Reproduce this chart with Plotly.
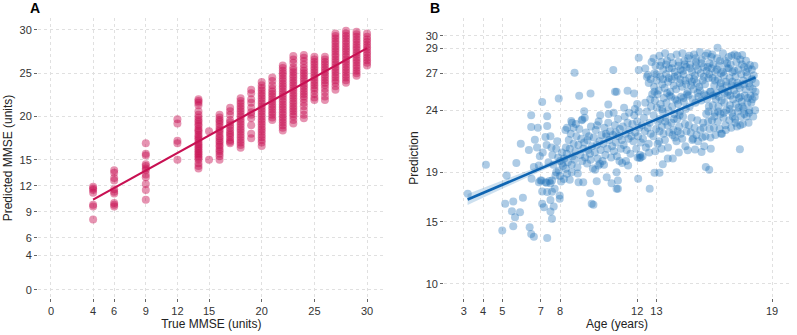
import plotly.graph_objects as go
from plotly.subplots import make_subplots

# ---------------- Panel A data ----------------
true_levels = [4, 6, 9, 12, 14, 15, 16, 17, 18, 19, 20, 21, 22, 23, 24, 25, 26, 27, 28, 29, 30]
pred_by_level = [
    [11.9, 11.7, 11.5, 11.2, 9.8, 9.6, 8.1],
    [13.8, 13.5, 12.9, 12.6, 11.6, 11.3, 11.1, 10.0, 9.8, 9.6],
    [16.9, 15.7, 15.5, 14.5, 14.3, 14.0, 13.8, 13.3, 13.0, 12.2, 11.5, 10.4],
    [19.7, 19.2, 17.2, 16.9, 15.0],
    [22.0, 21.8, 21.6, 21.3, 20.6, 20.2, 19.9, 19.6, 19.4, 19.1, 18.9, 18.6, 18.4, 18.2, 17.9, 17.7,
     17.5, 17.3, 17.0, 16.8, 16.6, 16.4, 16.2, 16.0, 15.8, 15.6, 15.4, 15.2, 15.0, 14.6, 14.3, 14.0],
    [18.3, 15.0],
    [20.2, 19.9, 19.6, 19.4, 19.1, 18.8, 18.5, 18.3, 18.0, 17.7, 17.5, 17.2, 17.0, 16.7, 16.5, 16.2,
     16.0, 15.7, 15.4, 15.0],
    [21.0, 20.6, 20.2, 19.6, 19.3, 19.0, 18.7, 18.4, 18.1, 17.9, 17.6, 17.3, 17.1, 16.9],
    [22.1, 21.8, 21.5, 21.2, 20.9, 20.6, 20.3, 20.0, 19.7, 19.4, 19.1, 18.8, 18.5, 18.2, 17.9, 17.6,
     17.3, 17.0, 16.7, 16.4],
    [23.1, 22.7, 22.0, 21.6, 21.0, 20.5, 20.2, 19.8, 19.0, 18.0, 17.5],
    [24.0, 23.6, 23.3, 23.0, 22.7, 22.4, 22.1, 21.8, 21.5, 21.2, 20.9, 20.6, 20.3, 20.0, 19.7, 19.4,
     19.1, 18.8, 18.5, 18.2, 17.9, 17.6, 17.3, 17.0, 16.6],
    [24.5, 24.1, 23.6, 23.2, 22.9, 22.6, 22.3, 22.0, 21.7, 21.4, 21.1, 20.8, 20.5, 20.2, 19.9, 19.6],
    [25.9, 25.6, 25.3, 25.0, 24.7, 24.4, 24.1, 23.8, 23.5, 23.2, 22.9, 22.6, 22.3, 22.0, 21.7, 21.4,
     21.1, 20.8, 20.5, 20.2, 19.9, 19.6, 19.3, 19.0, 18.7, 18.4],
    [27.0, 26.6, 26.2, 25.7, 25.4, 25.1, 24.8, 24.5, 24.2, 23.9, 23.6, 23.3, 23.0, 22.7, 22.4, 22.1,
     21.8, 21.5, 21.2, 20.9, 20.6, 20.3, 20.0, 19.6, 19.2],
    [27.1, 26.8, 26.4, 26.0, 25.6, 25.3, 25.0, 24.7, 24.4, 24.1, 23.8, 23.5, 23.2, 22.9, 22.6, 22.3,
     22.0, 21.6, 21.2, 20.7, 20.2, 19.8],
    [26.9, 26.6, 26.3, 26.0, 25.7, 25.4, 25.1, 24.8, 24.5, 24.2, 23.9, 23.6, 23.3, 23.0, 22.6, 22.2, 21.9],
    [26.9, 26.6, 26.3, 26.0, 25.7, 25.4, 25.1, 24.8, 24.5, 24.2, 23.9, 23.6, 23.2, 22.8, 22.3, 21.9],
    [29.6, 29.3, 29.0, 28.7, 28.4, 28.1, 27.8, 27.5, 27.2, 26.9, 26.6, 26.3, 26.0, 25.7, 25.4, 25.1,
     24.8, 24.5, 24.2, 23.9, 23.5, 23.1],
    [29.9, 29.6, 29.3, 29.0, 28.7, 28.4, 28.1, 27.8, 27.5, 27.2, 26.9, 26.6, 26.3, 26.0, 25.7, 25.4,
     25.1, 24.8, 24.5, 24.2, 23.9],
    [29.8, 29.5, 29.2, 28.9, 28.6, 28.3, 28.0, 27.7, 27.4, 27.1, 26.8, 26.5, 26.2, 25.9, 25.6, 25.3,
     25.0, 24.7],
    [29.6, 29.2, 28.9, 28.6, 28.3, 28.0, 27.7, 27.4, 27.1, 26.8, 26.5, 26.2, 25.9],
]
fit_a_x = [4, 30]
fit_a_y = [10.4, 27.9]
ticks_a = [0, 4, 6, 9, 12, 15, 20, 25, 30]

# ---------------- Panel B data ----------------
b_young = [
    (3.21, 17.26), (4.15, 19.6), (5.73, 19.74), (5.23, 18.74), (5.15, 16.45), (5.57, 16.64),
    (6.07, 16.94), (5.5, 15.85), (5.92, 15.77), (5.66, 15.37), (5.0, 14.3), (5.57, 14.64),
    (6.42, 14.56), (6.5, 14.02), (6.64, 13.8), (5.96, 21.3), (6.38, 20.8), (6.5, 23.6),
    (6.5, 22.66), (6.85, 22.6), (6.69, 21.63), (6.52, 18.47), (6.64, 19.42), (6.9, 19.55),
    (6.98, 18.34), (7.24, 18.2), (7.5, 18.12), (7.58, 18.34), (7.76, 18.74), (7.93, 19.15),
    (8.1, 19.7), (8.36, 18.88), (7.33, 13.7), (7.58, 15.24), (7.5, 15.83), (7.07, 16.45),
    (7.16, 16.18), (7.67, 16.23), (7.5, 16.77), (7.98, 16.86), (7.98, 17.13), (7.07, 17.45),
    (7.33, 17.4), (7.58, 17.42), (7.72, 17.67), (6.9, 18.2), (7.04, 18.34), (7.3, 18.15),
    (7.45, 18.3), (8.05, 18.25), (8.2, 18.45), (7.07, 24.68), (7.93, 24.95), (8.75, 27.03),
    (7.33, 23.52), (7.33, 22.74), (7.24, 21.85), (7.5, 21.9), (8.36, 22.6), (8.7, 22.6),
    (8.58, 23.14), (6.8, 21.0), (7.1, 20.6), (7.3, 21.2), (6.95, 20.3), (7.6, 20.4), (7.8, 20.9),
    (7.85, 21.5), (7.4, 19.8), (7.65, 19.6), (7.9, 20.2), (8.0, 19.9), (8.1, 20.6), (7.55, 21.0),
    (7.8, 19.0), (8.0, 18.7), (8.3, 19.3), (8.5, 18.4), (8.6, 19.0), (8.15, 19.5),
]
b_low = [
    (8.96, 18.2), (9.2, 18.2), (9.56, 17.3), (9.64, 16.45), (9.73, 16.37), (9.9, 18.28),
    (9.99, 19.55), (10.07, 19.69), (10.42, 18.6), (10.67, 18.12), (10.93, 19.0), (11.0, 17.67),
    (11.0, 18.34), (11.22, 19.74), (11.53, 19.55), (12.05, 18.48), (12.65, 17.67), (12.9, 18.96),
    (13.16, 18.96), (13.33, 19.64), (15.56, 19.42), (15.74, 19.2), (17.33, 20.85), (10.93, 17.67),
]
b_upper = [
    (8.99, 25.17), (9.58, 25.36), (10.76, 27.25), (10.85, 25.49), (10.5, 24.47), (9.25, 23.93),
    (9.16, 23.25), (10.93, 25.5), (11.5, 25.57), (11.84, 25.36), (12.0, 24.5), (12.08, 28.25),
    (12.08, 27.25), (12.42, 27.38), (12.5, 26.7), (12.6, 26.2), (12.56, 26.84),
    (12.75, 27.9), (12.7, 26.5), (12.78, 25.3), (12.68, 24.9),
]
b_band = [
    (8.22, 20.1), (8.3, 21.0), (8.35, 20.5), (8.4, 19.8), (8.45, 21.6), (8.5, 20.9), (8.55, 22.1),
    (8.6, 19.6), (8.65, 20.3), (8.7, 21.3), (8.28, 22.4), (8.62, 23.0),
    (8.75, 20.0), (8.8, 20.7), (8.85, 21.9), (8.9, 19.4), (8.95, 21.2), (9.0, 22.5), (9.05, 20.4),
    (9.1, 21.7), (9.15, 19.9), (9.2, 20.9), (8.82, 22.9), (9.12, 23.2), (8.92, 18.9),
    (9.25, 21.4), (9.3, 20.2), (9.35, 22.2), (9.4, 19.7), (9.45, 20.8), (9.5, 21.9), (9.55, 20.5),
    (9.6, 22.7), (9.65, 21.1), (9.7, 19.3), (9.28, 23.4), (9.58, 20.0), (9.42, 21.6),
    (9.75, 21.8), (9.8, 20.6), (9.85, 22.4), (9.9, 21.2), (9.95, 20.1), (10.0, 23.1), (10.05, 21.5),
    (10.1, 20.8), (10.15, 22.0), (10.2, 19.9), (9.82, 19.2), (10.08, 23.6), (9.92, 22.8),
    (10.25, 21.3), (10.3, 22.6), (10.35, 20.4), (10.4, 21.9), (10.45, 20.9), (10.5, 23.0),
    (10.55, 21.6), (10.6, 22.3), (10.65, 20.2), (10.7, 21.1), (10.28, 19.6), (10.52, 23.7), (10.38, 22.1),
    (10.75, 22.0), (10.8, 20.7), (10.85, 22.8), (10.9, 21.4), (10.95, 20.3), (11.0, 23.3),
    (11.05, 21.9), (11.1, 22.5), (11.15, 20.9), (11.2, 21.6), (10.78, 23.8), (11.08, 19.9), (10.88, 22.2),
    (11.25, 22.7), (11.3, 21.2), (11.35, 23.5), (11.4, 22.1), (11.45, 20.8), (11.5, 23.0),
    (11.55, 21.7), (11.6, 22.4), (11.65, 20.5), (11.7, 21.9), (11.32, 24.2), (11.58, 23.8), (11.42, 19.9),
    (11.75, 22.9), (11.8, 21.5), (11.85, 23.6), (11.9, 22.2), (11.95, 20.9), (12.0, 23.1),
    (12.05, 21.9), (12.1, 22.6), (12.15, 20.4), (12.2, 21.4), (12.02, 20.2), (12.12, 20.15),
    (12.18, 20.2), (11.88, 24.1), (12.08, 23.9),
    (12.25, 22.8), (12.3, 21.7), (12.35, 23.4), (12.4, 22.3), (12.45, 21.0), (12.5, 23.9),
    (12.55, 22.6), (12.6, 21.3), (12.65, 23.0), (12.7, 22.1), (12.28, 20.3), (12.72, 24.3),
    (12.42, 24.6), (12.62, 20.6),
]
b_cloud = [
    (12.85, 28.2), (12.95, 27.6), (12.9, 27.0), (13.0, 26.4), (12.88, 25.9), (13.05, 25.3), (12.92, 24.8),
    (13.02, 24.2), (12.86, 23.6), (13.08, 23.1), (12.98, 22.5), (12.84, 21.9), (13.06, 21.3), (12.94, 20.7),
    (13.0, 26.9), (12.9, 25.5),
    (13.15, 28.4), (13.25, 27.9), (13.35, 27.3), (13.2, 26.7), (13.3, 26.1), (13.12, 25.6), (13.38, 25.0),
    (13.22, 24.5), (13.32, 23.9), (13.18, 23.3), (13.28, 22.7), (13.36, 22.1), (13.14, 21.5), (13.26, 20.9),
    (13.2, 27.6), (13.34, 26.5), (13.3, 24.1), (13.16, 22.3),
    (13.45, 28.6), (13.55, 28.0), (13.65, 27.4), (13.5, 26.9), (13.6, 26.3), (13.42, 25.8), (13.68, 25.2),
    (13.52, 24.6), (13.62, 24.0), (13.48, 23.4), (13.58, 22.8), (13.66, 22.2), (13.44, 21.6), (13.59, 20.1),
    (13.5, 27.7), (13.64, 26.6), (13.55, 25.4), (13.46, 23.1), (13.6, 21.0),
    (13.75, 28.3), (13.85, 27.8), (13.95, 27.1), (13.8, 26.5), (13.9, 26.0), (13.72, 25.5), (13.98, 24.9),
    (13.82, 24.3), (13.92, 23.7), (13.78, 23.0), (13.88, 22.4), (13.96, 21.8), (13.85, 20.1), (13.8, 27.4),
    (13.94, 26.7), (13.76, 25.1), (13.9, 23.3), (13.84, 22.0),
    (14.05, 28.5), (14.15, 27.9), (14.25, 27.3), (14.1, 26.8), (14.2, 26.2), (14.02, 25.7), (14.28, 25.1),
    (14.12, 24.5), (14.22, 23.9), (14.08, 23.3), (14.18, 22.7), (14.26, 22.1), (14.04, 21.5), (14.14, 27.6),
    (14.24, 26.5), (14.06, 24.8), (14.2, 23.6), (14.1, 22.3), (14.16, 20.6),
    (14.35, 28.6), (14.45, 28.0), (14.55, 27.5), (14.4, 26.9), (14.5, 26.4), (14.32, 25.9), (14.58, 25.3),
    (14.42, 24.7), (14.52, 24.1), (14.38, 23.5), (14.48, 22.9), (14.56, 22.3), (14.34, 21.7), (14.5, 21.1),
    (14.46, 27.7), (14.36, 27.2), (14.54, 26.1), (14.4, 25.0), (14.62, 20.77),
    (14.65, 28.2), (14.75, 27.7), (14.85, 27.1), (14.7, 26.6), (14.8, 26.0), (14.62, 25.5), (14.88, 24.9),
    (14.72, 24.3), (14.82, 23.4), (14.68, 22.8), (14.78, 22.2), (14.86, 21.6), (14.74, 27.4), (14.84, 26.3),
    (14.66, 25.2), (14.9, 21.7), (14.7, 28.4),
    (14.95, 28.5), (15.05, 27.9), (15.15, 27.3), (15.0, 26.8), (15.1, 26.2), (14.92, 25.7), (15.18, 25.1),
    (15.02, 24.6), (15.12, 23.2), (14.98, 22.6), (15.08, 22.0), (15.16, 21.5), (15.0, 20.83), (15.06, 27.6),
    (14.96, 26.5), (15.14, 25.4), (15.04, 28.2),
    (15.25, 28.7), (15.35, 28.1), (15.45, 27.5), (15.3, 27.0), (15.4, 26.4), (15.22, 25.9), (15.48, 25.3),
    (15.32, 24.8), (15.42, 23.0), (15.28, 22.4), (15.38, 21.8), (15.46, 26.7), (15.34, 27.8), (15.26, 25.6),
    (15.44, 22.6), (15.34, 20.63), (15.48, 21.1),
    (15.55, 28.4), (15.65, 28.6), (15.75, 27.8), (15.6, 27.2), (15.7, 26.6), (15.52, 26.1), (15.78, 25.5),
    (15.62, 24.9), (15.72, 24.3), (15.58, 23.7), (15.68, 23.1), (15.76, 22.5), (15.54, 21.9), (15.66, 27.5),
    (15.74, 26.9), (15.56, 25.2), (15.7, 23.9), (15.8, 21.8), (15.82, 20.9),
    (15.85, 28.3), (15.95, 27.7), (16.05, 27.1), (15.9, 26.6), (16.0, 26.0), (15.82, 25.5), (16.08, 24.9),
    (15.92, 24.4), (16.02, 23.8), (15.88, 23.2), (15.98, 22.6), (16.06, 22.0), (15.86, 27.4), (16.04, 26.4),
    (15.94, 25.2), (16.0, 23.5), (15.9, 28.5),
    (16.17, 29.05), (16.15, 28.2), (16.25, 27.6), (16.35, 27.0), (16.2, 26.5), (16.3, 25.9), (16.12, 25.4),
    (16.38, 24.8), (16.22, 24.3), (16.32, 23.7), (16.18, 23.1), (16.28, 22.5), (16.36, 22.1), (16.14, 27.3),
    (16.34, 26.2), (16.24, 25.1), (16.3, 28.0), (16.2, 23.9),
    (16.45, 28.6), (16.55, 28.0), (16.65, 27.4), (16.5, 26.8), (16.6, 26.3), (16.42, 25.7), (16.68, 25.2),
    (16.52, 24.6), (16.62, 24.0), (16.48, 23.4), (16.58, 22.8), (16.4, 22.1), (16.66, 27.8), (16.44, 27.1),
    (16.64, 26.0), (16.54, 25.4), (16.5, 23.8), (16.6, 22.4),
    (16.75, 28.3), (16.85, 27.7), (16.95, 27.1), (16.8, 26.6), (16.9, 26.0), (16.72, 25.5), (16.98, 24.9),
    (16.82, 24.4), (16.92, 23.8), (16.78, 23.2), (16.88, 22.6), (16.96, 23.5), (16.74, 27.4), (16.94, 26.3),
    (16.84, 25.2), (16.9, 28.4), (16.8, 24.1),
    (17.05, 28.5), (17.15, 27.9), (17.25, 27.3), (17.1, 26.7), (17.2, 26.2), (17.02, 25.6), (17.28, 25.0),
    (17.12, 24.5), (17.22, 23.9), (17.08, 23.3), (17.18, 22.7), (17.26, 24.2), (17.04, 27.2), (17.24, 26.0),
    (17.14, 25.3), (17.2, 28.4), (17.1, 23.0),
    (17.45, 28.46), (17.35, 28.1), (17.55, 27.5), (17.4, 26.9), (17.5, 26.4), (17.32, 25.8), (17.58, 25.2),
    (17.42, 24.7), (17.52, 24.1), (17.38, 23.5), (17.48, 22.9), (17.35, 22.8), (17.56, 23.7), (17.44, 27.7),
    (17.54, 26.1), (17.36, 25.1), (17.46, 24.3),
    (17.65, 28.0), (17.75, 27.4), (17.85, 27.65), (17.7, 26.8), (17.8, 26.2), (17.62, 25.7), (17.88, 25.2),
    (17.72, 24.6), (17.82, 24.0), (17.68, 23.5), (17.78, 23.0), (17.66, 27.1), (17.84, 25.9), (17.74, 25.0),
    (17.8, 23.8),
    (17.95, 27.3), (18.05, 26.8), (18.15, 26.2), (18.0, 25.7), (18.1, 25.1), (17.92, 24.6), (18.12, 24.0),
    (18.02, 23.5), (17.96, 26.5), (18.08, 27.6), (18.14, 25.5), (17.98, 24.9),
]
fit_b_x = [3.2, 18.14]
fit_b_y = [16.8, 26.66]
band_x = [3.2, 5, 7, 9, 11, 13, 15, 17, 18.14]
band_lo = [16.35, 17.66, 19.09, 20.49, 21.85, 23.17, 24.47, 25.74, 26.46]
band_hi = [17.25, 18.32, 19.53, 20.77, 22.05, 23.37, 24.71, 26.08, 26.86]
ticks_bx = [3, 4, 5, 7, 8, 12, 13, 19]
ticks_by = [10, 15, 19, 24, 27, 29, 30]

# ---------------- Figure ----------------
RED = "rgb(200,16,82)"
BLUE = "rgb(28,112,184)"
FONT = "Liberation Sans, Arial, sans-serif"

fig = make_subplots(rows=1, cols=2, horizontal_spacing=0.08)

xa, ya = [], []
for lvl, preds in zip(true_levels, pred_by_level):
    xa += [lvl] * len(preds)
    ya += preds
fig.add_trace(go.Scatter(x=xa, y=ya, mode="markers",
                         marker=dict(size=8, color=RED, opacity=0.45, line=dict(width=0)),
                         showlegend=False, hoverinfo="skip"), row=1, col=1)
fig.add_trace(go.Scatter(x=fit_a_x, y=fit_a_y, mode="lines",
                         line=dict(color=RED, width=2.2), showlegend=False), row=1, col=1)

pts_b = b_young + b_low + b_upper + b_band + b_cloud
fig.add_trace(go.Scatter(x=[p[0] for p in pts_b], y=[p[1] for p in pts_b], mode="markers",
                         marker=dict(size=8, color=BLUE, opacity=0.36, line=dict(width=0)),
                         showlegend=False, hoverinfo="skip"), row=1, col=2)
fig.add_trace(go.Scatter(x=band_x + band_x[::-1], y=band_hi + band_lo[::-1], fill="toself",
                         fillcolor="rgba(28,112,184,0.22)", line=dict(width=0), mode="lines",
                         showlegend=False, hoverinfo="skip"), row=1, col=2)
fig.add_trace(go.Scatter(x=fit_b_x, y=fit_b_y, mode="lines",
                         line=dict(color="rgb(14,100,178)", width=2.6), showlegend=False), row=1, col=2)

axis_common = dict(showgrid=True, gridcolor="#e0e0e0", griddash="3px,3px", gridwidth=1,
                   zeroline=False, showline=False, ticks="outside", ticklen=3, tickwidth=1,
                   tickcolor="#666", tickfont=dict(size=11, color="#333", family=FONT),
                   tickmode="array")

fig.update_xaxes(**axis_common)
fig.update_yaxes(**axis_common)

fig.update_xaxes(domain=[0, 0.461], range=[-1.23, 31.67], tickvals=ticks_a,
                 title=dict(text="True MMSE (units)", font=dict(size=12, color="#222", family=FONT),
                            standoff=2), row=1, col=1)
fig.update_yaxes(range=[-0.96, 31.38], tickvals=ticks_a,
                 title=dict(text="Predicted MMSE (units)", font=dict(size=12, color="#222", family=FONT),
                            standoff=4), row=1, col=1)
fig.update_xaxes(domain=[0.540, 1.0], range=[1.98, 19.93], tickvals=ticks_bx,
                 title=dict(text="Age (years)", font=dict(size=12, color="#222", family=FONT),
                            standoff=2), row=1, col=2)
fig.update_yaxes(range=[8.85, 31.45], tickvals=ticks_by,
                 title=dict(text="Prediction", font=dict(size=12, color="#222", family=FONT),
                            standoff=4), row=1, col=2)

fig.add_annotation(text="<b>A</b>", xref="paper", yref="paper", x=-0.013, y=1.035,
                   xanchor="left", yanchor="middle", showarrow=False,
                   font=dict(size=14, color="#000", family=FONT))
fig.add_annotation(text="<b>B</b>", xref="paper", yref="paper", x=0.519, y=1.035,
                   xanchor="left", yanchor="middle", showarrow=False,
                   font=dict(size=14, color="#000", family=FONT))

fig.update_layout(width=797, height=335, margin=dict(l=35, r=7, t=18, b=35),
                  plot_bgcolor="white", paper_bgcolor="white",
                  font=dict(family=FONT))

fig.write_html("out.html", config={"displayModeBar": False},
               post_script="document.body.style.margin='0';")
